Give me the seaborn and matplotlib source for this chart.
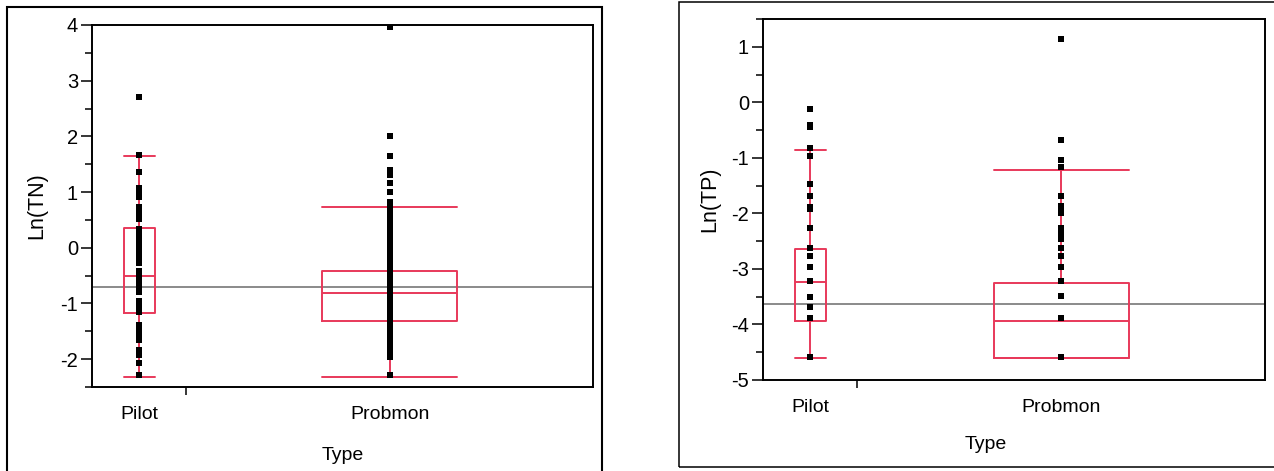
import numpy as np
import pandas as pd
import matplotlib
matplotlib.use("Agg")
import matplotlib.pyplot as plt
from matplotlib.patches import Rectangle
import seaborn as sns

# categories
types = ['Pilot', 'Probmon']

# Ln(TN) values
tn_pilot = [2.70, 1.67, 1.36, 1.08, 1.02, 0.97, 0.92, 0.73, 0.66, 0.58, 0.52,
            0.34, 0.28, 0.21, 0.14, 0.06, -0.01, -0.08, -0.18, -0.27, -0.42,
            -0.49, -0.56, -0.63, -0.71, -0.79, -0.96, -1.04, -1.11, -1.16,
            -1.38, -1.46, -1.55, -1.65, -1.83, -1.92, -2.07, -2.29]
tn_probmon = [3.96, 2.01, 1.65, 1.39, 1.30, 1.16, 1.00, 0.83, 0.79, 0.74,
              0.69, 0.66, 0.61, 0.56, 0.52, 0.48, 0.43, 0.38, 0.35, 0.29,
              0.25, 0.21, 0.16, 0.12, 0.07, 0.02, -0.02, -0.07, -0.12, -0.16,
              -0.21, -0.26, -0.30, -0.34, -0.39, -0.44, -0.48, -0.52, -0.57,
              -0.61, -0.66, -0.71, -0.75, -0.79, -0.84, -0.88, -0.93, -0.98,
              -1.02, -1.06, -1.11, -1.15, -1.20, -1.25, -1.29, -1.33, -1.38,
              -1.43, -1.47, -1.51, -1.56, -1.61, -1.65, -1.69, -1.74, -1.79,
              -1.83, -1.87, -1.92, -1.96, -2.29]

# Ln(TP) values
tp_pilot = [-0.12, -0.40, -0.44, -0.82, -0.96, -1.47, -1.68, -1.88, -1.92,
            -2.27, -2.63, -2.77, -2.96, -3.21, -3.50, -3.68, -3.89, -4.59]
tp_probmon = [1.14, -0.67, -1.03, -1.17, -1.68, -1.86, -1.90, -1.95, -2.00,
              -2.27, -2.36, -2.47, -2.63, -2.77, -2.96, -3.21, -3.49, -3.89,
              -4.59]

# quantile boxes: [whisker low, q1, median, q3, whisker high]
tn_box = {'Pilot': [-2.32, -1.17, -0.51, 0.35, 1.65],
          'Probmon': [-2.32, -1.32, -0.81, -0.41, 0.74]}
tp_box = {'Pilot': [-4.60, -3.93, -3.24, -2.65, -0.85],
          'Probmon': [-4.60, -4.60, -3.93, -3.25, -1.21]}

# grand mean lines
tn_mean = -0.70
tp_mean = -3.64

# layout (x axis split by group size)
pos = {'Pilot': 0.094, 'Probmon': 0.594}
box_w = {'Pilot': 0.062, 'Probmon': 0.269}
split = 0.187

red = '#e8395a'

sns.set_theme(style="white")
plt.rcParams['font.family'] = ['Liberation Sans', 'DejaVu Sans']
plt.rcParams['axes.unicode_minus'] = False

fig = plt.figure(figsize=(12.74, 4.71), dpi=100)
ax1 = fig.add_axes([92/1274, 1 - 387/471, 501/1274, 362/471])
ax2 = fig.add_axes([763/1274, 1 - 380/471, 502/1274, 361/471])

# outer frames
fig.patches.append(Rectangle((7/1274, -0.05), 595/1274, 1.05 - 7/471,
                             transform=fig.transFigure, fill=False,
                             edgecolor='black', linewidth=1.5))
fig.patches.append(Rectangle((679/1274, 1 - 467/471), 600/1274, 465/471,
                             transform=fig.transFigure, fill=False,
                             edgecolor='black', linewidth=1.1))


def draw_panel(ax, pilot, probmon, boxes, mean, ylim, yticks, ylabel):
    df = pd.DataFrame({'Type': ['Pilot'] * len(pilot) + ['Probmon'] * len(probmon),
                       'value': pilot + probmon})
    df['x'] = df['Type'].map(pos)

    ax.axhline(mean, color='#8a8a8a', linewidth=1.4, zorder=1)

    stats = []
    for t in types:
        lo, q1, med, q3, hi = boxes[t]
        stats.append({'whislo': lo, 'q1': q1, 'med': med, 'q3': q3,
                      'whishi': hi, 'fliers': []})
    props = dict(color=red, linewidth=1.4)
    ax.bxp(stats, positions=[pos[t] for t in types],
           widths=[box_w[t] for t in types],
           capwidths=[box_w[t] for t in types],
           showfliers=False, boxprops=props, medianprops=props,
           whiskerprops=props, capprops=props, manage_ticks=False, zorder=2)

    sns.scatterplot(data=df, x='x', y='value', marker='s', s=18,
                    color='black', linewidth=0, ax=ax, zorder=3, legend=False)

    ax.set_xlim(0, 1)
    ax.set_ylim(*ylim)
    ax.set_yticks(yticks)
    ax.set_yticks(np.arange(ylim[0], ylim[1] + 0.01, 0.5), minor=True)
    ax.set_xticks([split])
    ax.set_xticklabels([''])
    ax.set_xticks([pos[t] for t in types], minor=True)
    ax.set_xticklabels(types, minor=True)
    ax.tick_params(axis='y', which='major', direction='out', length=8,
                   width=1.1, color='black', left=True, pad=2,
                   labelsize=14.5, labelcolor='black')
    ax.tick_params(axis='y', which='minor', direction='out', length=5,
                   width=1.1, color='black', left=True)
    ax.tick_params(axis='x', which='major', direction='out', length=6,
                   width=1.1, color='black', bottom=True)
    ax.tick_params(axis='x', which='minor', length=0, pad=14, bottom=True,
                   labelsize=14, labelcolor='black')
    for s in ax.spines.values():
        s.set_color('black')
        s.set_linewidth(1.4)
    ax.set_ylabel(ylabel, fontsize=15.5, color='black')
    ax.set_xlabel('Type', fontsize=14, color='black')
    ax.grid(False)


draw_panel(ax1, tn_pilot, tn_probmon, tn_box, tn_mean, (-2.5, 4),
           [-2, -1, 0, 1, 2, 3, 4], 'Ln(TN)')
draw_panel(ax2, tp_pilot, tp_probmon, tp_box, tp_mean, (-5, 1.5),
           [-5, -4, -3, -2, -1, 0, 1], 'Ln(TP)')

ax1.xaxis.set_label_coords(0.5, -0.165)
ax2.xaxis.set_label_coords(0.444, -0.155)
ax1.yaxis.set_label_coords(-0.09, 0.5)
ax2.yaxis.set_label_coords(-0.086, 0.5)

fig.savefig('out.png', dpi=100)
